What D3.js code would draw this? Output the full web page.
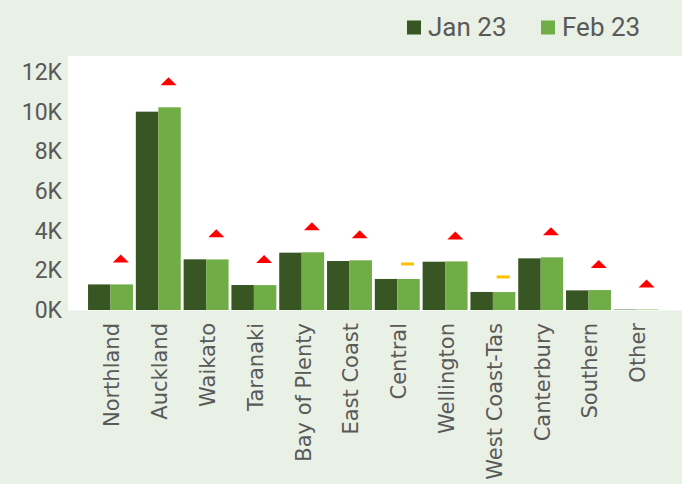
<!DOCTYPE html>
<html>
<head>
<meta charset="utf-8">
<script src="https://cdn.jsdelivr.net/npm/d3@7"></script>
<style>
  html, body { margin: 0; padding: 0; background: #e9f0e5; }
  svg { display: block; }
</style>
</head>
<body>
<svg id="chart" width="682" height="484"></svg>
<script>
const categories = ["Northland","Auckland","Waikato","Taranaki","Bay of Plenty","East Coast","Central","Wellington","West Coast-Tas","Canterbury","Southern","Other"];
const jan23 = [1290, 10000, 2555, 1260, 2890, 2470, 1565, 2435, 910, 2605, 990, 20];
const feb23 = [1290, 10220, 2550, 1255, 2910, 2505, 1565, 2450, 905, 2655, 1005, 20];
const trend = ["up","up","up","up","up","up","flat","up","flat","up","up","up"];
const yTicks = [0, 2000, 4000, 6000, 8000, 10000, 12000];
const seriesNames = ["Jan 23", "Feb 23"];
const seriesColors = ["#375623", "#70ad47"];

const W = 682, H = 484;
const plot = { left: 68, right: 682, top: 56, bottom: 310.5 };
const svg = d3.select("#chart");

svg.append("rect").attr("width", W).attr("height", H).attr("fill", "#e9f0e5");
svg.append("rect")
  .attr("x", plot.left).attr("y", plot.top)
  .attr("width", plot.right - plot.left).attr("height", plot.bottom - plot.top)
  .attr("fill", "#ffffff");

const x = d3.scaleBand().domain(categories).range([86.6, 660.2]).paddingInner(0.06).paddingOuter(0.03);
const xs = d3.scaleBand().domain([0, 1]).range([0, x.bandwidth()]);
const y = d3.scaleLinear().domain([0, 12000]).range([310, 72]);

// y axis
const yAxis = d3.axisLeft(y).tickValues(yTicks).tickSize(0).tickPadding(0)
  .tickFormat(d => (d / 1000) + "K");
const yg = svg.append("g").attr("transform", "translate(62,0)").call(yAxis);
yg.select(".domain").remove();
yg.selectAll("text").attr("fill", "#595959").style("font-family", "Roboto, sans-serif").style("font-size", "23px");

// bars
const data = categories.map((c, i) => ({ c, vals: [jan23[i], feb23[i]], trend: trend[i] }));
const groups = svg.append("g").selectAll("g").data(data).join("g")
  .attr("transform", d => `translate(${x(d.c)},0)`);
groups.selectAll("rect").data(d => d.vals.map((v, k) => ({ v, k }))).join("rect")
  .attr("x", d => xs(d.k))
  .attr("width", xs.bandwidth())
  .attr("y", d => Math.min(y(d.v), y(0)))
  .attr("height", d => Math.abs(y(0) - y(d.v)))
  .attr("fill", d => seriesColors[d.k]);

// markers
groups.each(function(d) {
  const g = d3.select(this);
  const cx = xs(1) + xs.bandwidth() / 2 - 1;
  const top = y(Math.max(d.vals[0], d.vals[1]));
  if (d.trend === "up") {
    const base = top - 22;
    g.append("path")
      .attr("d", `M${cx - 8},${base} L${cx + 8},${base} L${cx},${base - 8} Z`)
      .attr("fill", "#ff0000");
  } else {
    g.append("rect")
      .attr("x", cx - 6.5).attr("y", top - 16.5)
      .attr("width", 13).attr("height", 3)
      .attr("fill", "#ffc000");
  }
});

// x labels
svg.append("g").selectAll("text").data(categories).join("text")
  .attr("transform", d => `translate(${x(d) + x.bandwidth() / 2},323) rotate(-90)`)
  .attr("text-anchor", "end")
  .attr("dy", "0.42em")
  .attr("fill", "#595959")
  .style("font-family", "'DejaVu Sans', sans-serif")
  .style("font-size", "21px")
  .text(d => d);

// legend
const legendX = [407, 541];
const leg = svg.append("g").selectAll("g").data(seriesNames).join("g")
  .attr("transform", (d, i) => `translate(${legendX[i]},20.5)`);
leg.append("rect").attr("width", 14).attr("height", 14).attr("fill", (d, i) => seriesColors[i]);
leg.append("text").attr("x", 21).attr("y", 15.5)
  .attr("fill", "#595959")
  .style("font-family", "Roboto, sans-serif")
  .style("font-size", "26px")
  .text(d => d);
</script>
</body>
</html>
